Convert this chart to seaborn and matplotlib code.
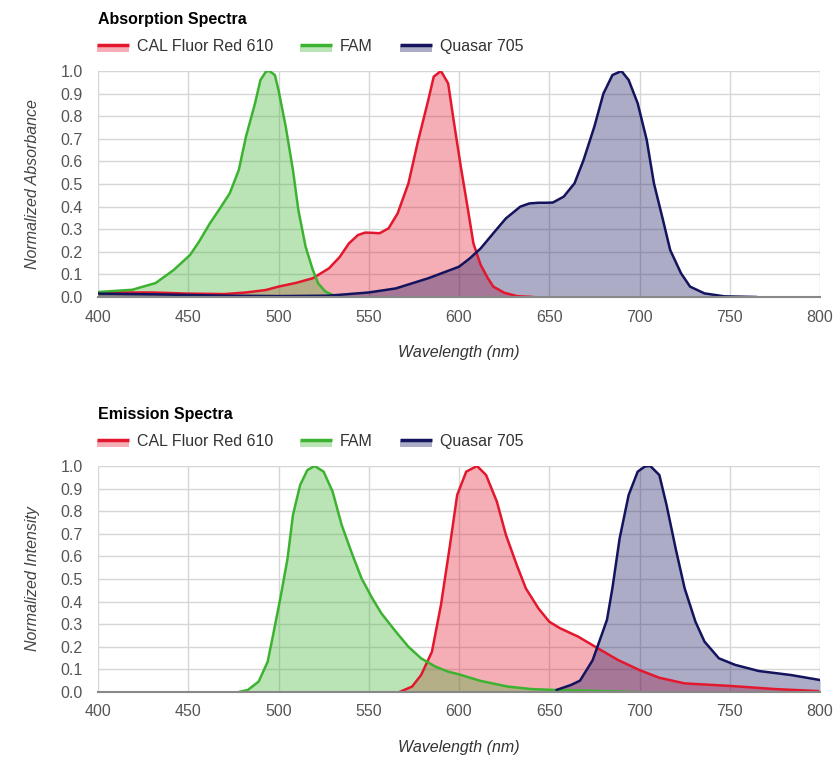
import numpy as np
import pandas as pd
import seaborn as sns
import matplotlib.pyplot as plt
from matplotlib.legend_handler import HandlerBase
from matplotlib.patches import Rectangle
from matplotlib.lines import Line2D
from matplotlib import font_manager

# ---------------- data ----------------
dyes = ["CAL Fluor Red 610", "FAM", "Quasar 705"]

abs_red_wl = [400, 430, 450, 470, 482, 493, 500, 510, 519, 528, 534, 539, 544, 548, 552, 556, 561, 566, 572, 577, 583, 586, 590, 594, 597, 601, 605, 608, 612, 616, 619, 625, 632, 641]
abs_red_val = [0.02, 0.02, 0.015, 0.013, 0.02, 0.031, 0.046, 0.063, 0.083, 0.127, 0.178, 0.237, 0.274, 0.285, 0.284, 0.282, 0.304, 0.37, 0.503, 0.68, 0.872, 0.975, 1.0, 0.945, 0.783, 0.577, 0.385, 0.237, 0.142, 0.083, 0.046, 0.019, 0.004, 0.0]

abs_fam_wl = [400, 419, 432, 442, 445, 451, 456, 462, 467, 473, 478, 482, 487, 490, 493, 495, 498, 500, 504, 508, 511, 515, 519, 522, 526, 530, 535]
abs_fam_val = [0.022, 0.032, 0.062, 0.12, 0.142, 0.186, 0.245, 0.326, 0.385, 0.459, 0.562, 0.71, 0.857, 0.96, 0.997, 1.0, 0.982, 0.916, 0.754, 0.562, 0.385, 0.223, 0.12, 0.06, 0.024, 0.009, 0.0]

abs_q_wl = [400, 430, 470, 500, 528, 550, 565, 583, 600, 606, 612, 619, 626, 634, 639, 644, 648, 652, 658, 664, 669, 675, 680, 685, 690, 694, 699, 704, 708, 713, 717, 723, 728, 736, 747, 765]
abs_q_val = [0.015, 0.012, 0.006, 0.004, 0.006, 0.02, 0.038, 0.083, 0.134, 0.171, 0.215, 0.282, 0.348, 0.40, 0.414, 0.417, 0.417, 0.418, 0.444, 0.503, 0.606, 0.754, 0.90, 0.982, 1.0, 0.96, 0.857, 0.695, 0.503, 0.341, 0.208, 0.105, 0.046, 0.016, 0.003, 0.0]

em_red_wl = [567, 574, 579, 585, 590, 595, 599, 604, 610, 615, 621, 626, 632, 637, 644, 650, 656, 666, 677, 688, 700, 711, 725, 750, 775, 799]
em_red_val = [0.0, 0.024, 0.075, 0.178, 0.385, 0.65, 0.872, 0.975, 1.0, 0.96, 0.842, 0.695, 0.562, 0.459, 0.37, 0.311, 0.282, 0.245, 0.193, 0.142, 0.097, 0.063, 0.038, 0.027, 0.013, 0.004]

em_fam_wl = [478, 483, 489, 494, 497, 501, 505, 508, 512, 516, 520, 525, 530, 535, 541, 546, 552, 557, 565, 572, 579, 587, 594, 600, 612, 627, 640, 653, 669, 698]
em_fam_val = [0.0, 0.009, 0.046, 0.134, 0.252, 0.414, 0.59, 0.783, 0.916, 0.982, 1.0, 0.975, 0.886, 0.739, 0.606, 0.503, 0.414, 0.348, 0.267, 0.20, 0.149, 0.112, 0.09, 0.078, 0.049, 0.024, 0.013, 0.009, 0.006, 0.0]

em_q_wl = [654, 662, 667, 674, 679, 682, 685, 689, 694, 699, 703, 706, 711, 715, 720, 725, 731, 736, 744, 753, 766, 784, 800]
em_q_val = [0.009, 0.031, 0.05, 0.14, 0.252, 0.32, 0.46, 0.68, 0.872, 0.975, 0.998, 1.0, 0.96, 0.827, 0.636, 0.459, 0.311, 0.223, 0.149, 0.12, 0.093, 0.075, 0.053]

x_ticks = [400, 450, 500, 550, 600, 650, 700, 750, 800]
y_ticks = [0.0, 0.1, 0.2, 0.3, 0.4, 0.5, 0.6, 0.7, 0.8, 0.9, 1.0]

line_colors = {"CAL Fluor Red 610": "#e3172d", "FAM": "#3cb330", "Quasar 705": "#13135e"}


def long_df(parts):
    frames = []
    for name, wl, val in parts:
        frames.append(pd.DataFrame({"dye": name, "wl": wl, "val": val}))
    return pd.concat(frames, ignore_index=True)


abs_df = long_df([(dyes[0], abs_red_wl, abs_red_val), (dyes[1], abs_fam_wl, abs_fam_val), (dyes[2], abs_q_wl, abs_q_val)])
em_df = long_df([(dyes[0], em_red_wl, em_red_val), (dyes[1], em_fam_wl, em_fam_val), (dyes[2], em_q_wl, em_q_val)])

# ---------------- style ----------------
sns.set_theme(style="white")
plt.rcParams["font.family"] = ["Liberation Sans", "DejaVu Sans"]

names = {f.name for f in font_manager.fontManager.ttflist}
tick_family = ["Liberation Sans Narrow", "Liberation Sans"] if "Liberation Sans Narrow" in names else ["Liberation Sans"]
tick_size = 12.5 if "Liberation Sans Narrow" in names else 11.5

fig = plt.figure(figsize=(8.38, 7.62), dpi=100)
ax1 = fig.add_axes([98 / 838, 1 - 297 / 762, 722 / 838, 226 / 762])
ax2 = fig.add_axes([98 / 838, 1 - 692 / 762, 722 / 838, 226 / 762])


class HandlerLineFill(HandlerBase):
    def create_artists(self, legend, orig_handle, xdescent, ydescent, width, height, fontsize, trans):
        c = orig_handle.get_color()
        r = Rectangle((-xdescent, -ydescent - height * 0.15), width, height * 0.6, facecolor=c, alpha=0.35,
                      edgecolor="none", transform=trans)
        ln = Line2D([-xdescent, -xdescent + width], [-ydescent + height * 0.5] * 2,
                    color=c, lw=2.5, transform=trans, solid_capstyle="butt")
        return [r, ln]


def draw(ax, df, ylabel, title):
    for name in dyes:
        sub = df[df["dye"] == name]
        ax.fill_between(sub["wl"], sub["val"], 0, color=line_colors[name], alpha=0.35, lw=0)
    sns.lineplot(data=df, x="wl", y="val", hue="dye", hue_order=dyes, palette=line_colors,
                 ax=ax, lw=1.8, legend=False, sort=False, estimator=None)
    for ln in ax.lines:
        ln.set_solid_joinstyle("round")
    ax.set_xlim(400, 800)
    ax.set_ylim(0, 1.0)
    ax.set_xticks(x_ticks)
    ax.set_yticks(y_ticks)
    ax.set_xticklabels([str(v) for v in x_ticks], family=tick_family, fontsize=tick_size)
    ax.set_yticklabels([f"{v:.1f}" for v in y_ticks], family=tick_family, fontsize=tick_size)
    ax.grid(True, color="#d6d6d6", lw=1)
    ax.set_axisbelow(True)
    for s in ["top", "right", "left"]:
        ax.spines[s].set_visible(False)
    ax.spines["bottom"].set_color("#888888")
    ax.spines["bottom"].set_linewidth(1.5)
    ax.tick_params(axis="both", length=0, labelcolor="#555555")
    ax.tick_params(axis="x", pad=9)
    ax.tick_params(axis="y", pad=11)
    ax.set_xlabel("Wavelength (nm)", fontsize=11.5, style="italic", color="#333333", labelpad=15)
    ax.set_ylabel(ylabel, fontsize=11.5, style="italic", color="#444444", labelpad=15)
    ax.set_title(title, loc="left", fontsize=11.5, fontweight="bold", color="#000000", pad=34)
    handles = [Line2D([], [], color=line_colors[n]) for n in dyes]
    ax.legend(handles, dyes, handler_map={Line2D: HandlerLineFill()}, loc="lower left",
              bbox_to_anchor=(-0.017, 1.027), ncol=3, frameon=False, fontsize=11.5,
              handlelength=2.0, handleheight=0.7, handletextpad=0.5, columnspacing=1.7,
              borderaxespad=0.3, labelcolor="#333333")


draw(ax1, abs_df, "Normalized Absorbance", "Absorption Spectra")
draw(ax2, em_df, "Normalized Intensity", "Emission Spectra")

fig.savefig("out.png", dpi=100)
